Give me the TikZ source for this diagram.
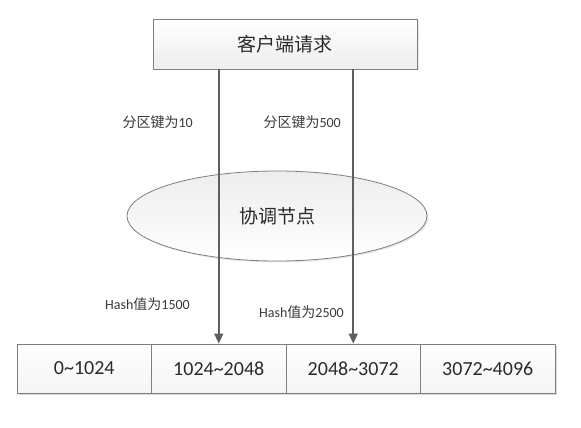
\documentclass[tikz,border=0pt]{standalone}
\usepackage{fontspec}
\setmainfont{Carlito}
\newfontfamily\cjk{Noto Sans CJK SC}
\usetikzlibrary{arrows.meta,shapes.geometric,shadows}
\definecolor{linegray}{HTML}{5F5F5F}
\definecolor{boxgray}{HTML}{7F7F7F}
\definecolor{txtgray}{HTML}{2A2A2A}
\definecolor{lblgray}{HTML}{3A3A3A}
\definecolor{fillgray}{HTML}{EDEDED}
\tikzset{
  shadowed/.style={drop shadow={opacity=0.18,shadow xshift=1.5pt,shadow yshift=-1.5pt}},
  topbox/.style={draw=boxgray,line width=0.8pt,shadowed,top color=white,bottom color=fillgray,
    minimum width=264pt,minimum height=50pt,inner sep=0pt,text=txtgray,font=\fontsize{19}{22}\selectfont\cjk},
  coord/.style={ellipse,draw=boxgray,line width=0.8pt,shadowed,top color=fillgray,bottom color=white,
    minimum width=300pt,minimum height=90pt,inner sep=0pt,text=txtgray,font=\fontsize{19}{22}\selectfont\cjk},
  cell/.style={draw=boxgray,line width=0.8pt,top color=white,bottom color=fillgray!60,
    minimum width=134.5pt,minimum height=49pt,inner sep=0pt,text=txtgray,font=\fontsize{20}{24}\selectfont},
  lbl/.style={inner sep=0pt,text=lblgray,font=\fontsize{14}{16}\selectfont},
  conn/.style={draw=linegray,line width=1.6pt,-{Triangle[width=9pt,length=10pt]}}
}
\begin{document}
\begin{tikzpicture}[x=1pt,y=-1pt]
\useasboundingbox[fill=white] (0,0) rectangle (581,428);
% top request box
\node[topbox] (req) at (285,44) {客户端请求};
% coordinator ellipse
\node[coord] (co) at (277,216) {协调节点};
% shadow behind the partition row
\fill[black,opacity=0.15] (18.5,345.5) rectangle (556.5,394.5);
% bottom partitions
\node[cell] (c1) at (84.25,368.5) {0\char"7E 1024};
\node[cell] (c2) at (218.75,368.5) {1024\char"7E 2048};
\node[cell] (c3) at (353.25,368.5) {2048\char"7E 3072};
\node[cell] (c4) at (487.75,368.5) {3072\char"7E 4096};
% connectors
\draw[conn] (req.south -| c2.north) -- (c2.north);
\draw[conn] (req.south -| c3.north) -- (c3.north);
% labels
\node[lbl,anchor=east] (l1) at (193,122) {{\cjk 分区键为}10};
\node[lbl,anchor=east] (l2) at (341,122) {{\cjk 分区键为}500};
\node[lbl,anchor=east] (l3) at (190,304) {Hash{\cjk 值为}1500};
\node[lbl,anchor=east] (l4) at (344,312) {Hash{\cjk 值为}2500};
\end{tikzpicture}
\end{document}
